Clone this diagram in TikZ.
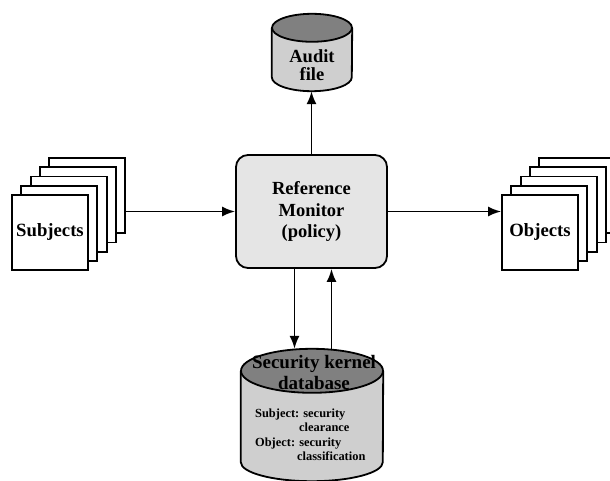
\documentclass[tikz,border=0pt]{standalone}
\usepackage{fontspec}
\setmainfont{Liberation Serif}
\usetikzlibrary{arrows.meta}
\definecolor{cylbody}{gray}{0.81}
\definecolor{cyltop}{gray}{0.5}
\definecolor{monfill}{gray}{0.9}
\tikzset{
  sheet/.style={draw, fill=white, line width=1.8pt, minimum width=76pt, minimum height=75pt, inner sep=0pt, font=\fontsize{18.7}{20}\selectfont\bfseries},
  monitor/.style={draw, fill=monfill, rounded corners=12pt, line width=1.8pt, minimum width=151pt, minimum height=113pt, align=center, font=\fontsize{18.5}{21.5}\selectfont\bfseries},
  storebox/.style={inner sep=0pt},
  flow/.style={->, line width=1.8pt},
}
\begin{document}
\begin{tikzpicture}[x=1pt,y=1pt,>={Latex[length=13pt,width=10pt]}]
\useasboundingbox (0,0) rectangle (610,-481);
\clip (0,0) rectangle (610,-481);

% subjects
\foreach \k in {4,3,2,1}
  \node[sheet] (subj\k) at ({50+9.3*\k},{-232.5+9.2*\k}) {};
\node[sheet] (subj0) at (50,-232.5) {Subjects};

% objects
\foreach \k in {4,3,2,1}
  \node[sheet] (obj\k) at ({540+9.3*\k},{-232.5+9.2*\k}) {};
\node[sheet] (obj0) at (540,-232.5) {Objects};

\node[monitor] (monitor) at (311.5,-211.5) {Reference\\Monitor\\(policy)};

% audit file
\node[storebox, minimum width=80pt, minimum height=77pt] (audit) at (312,-52.5) {};
\draw[line width=1.8pt, fill=cylbody] ([yshift=-14pt]audit.north west) -- ([yshift=14pt]audit.south west)
  arc[start angle=180, end angle=360, x radius=40pt, y radius=14pt] -- ([yshift=-14pt]audit.north east);
\draw[line width=1.8pt, fill=cyltop] ([yshift=-14pt]audit.north) ellipse [x radius=40pt, y radius=14pt];
\node[font=\fontsize{18.5}{18}\selectfont\bfseries, align=center] (audittext) at (312,-65) {Audit\\file};

% security kernel database
\node[storebox, minimum width=142pt, minimum height=132pt] (kernel) at (312,-415) {};
\draw[line width=1.8pt, fill=cylbody] ([yshift=-22pt]kernel.north west) -- ([yshift=19pt]kernel.south west)
  arc[start angle=180, end angle=360, x radius=71pt, y radius=19pt] -- ([yshift=-22pt]kernel.north east);
\draw[line width=1.8pt, fill=cyltop] ([yshift=-22pt]kernel.north) ellipse [x radius=71pt, y radius=22pt];
\node[font=\fontsize{19}{21}\selectfont\bfseries, align=center] (kernelhead) at (314,-372) {Security kernel\\database};
\node[anchor=north west, inner sep=0pt, align=left, font=\fontsize{12.4}{14.5}\selectfont\bfseries] (kernelinfo) at (255,-408.5)
  {Subject: security\\\hspace*{44pt}clearance\\Object: security\\\hspace*{42pt}classification};

% connectors
\draw[flow] (subj4.east |- monitor.west) -- (monitor.west);
\draw[flow] (monitor.east) -- (monitor.east -| obj0.west);
\draw[flow] (monitor.north) -- (monitor.north |- audit.south);
\draw[flow] ([xshift=-17pt]monitor.south) -- ([xshift=-17pt]monitor.south |- kernel.north);
\draw[flow] ([xshift=20pt]monitor.south |- kernel.north) -- ([xshift=20pt]monitor.south);
\end{tikzpicture}
\end{document}
